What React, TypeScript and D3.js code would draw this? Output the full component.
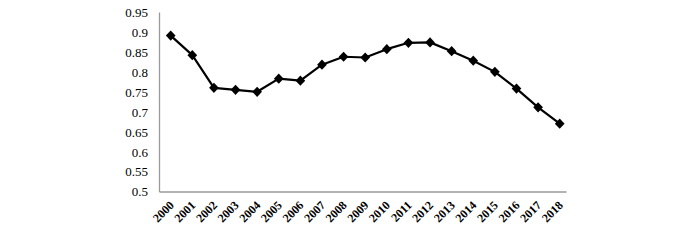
import React from "react";
import * as d3 from "d3";

const years = ["2000","2001","2002","2003","2004","2005","2006","2007","2008","2009","2010","2011","2012","2013","2014","2015","2016","2017","2018"];
const values = [0.892,0.843,0.761,0.756,0.751,0.784,0.779,0.819,0.839,0.837,0.858,0.874,0.875,0.853,0.829,0.801,0.759,0.712,0.671];
const yTicks = [0.5,0.55,0.6,0.65,0.7,0.75,0.8,0.85,0.9,0.95];

export default function App() {
  const W = 700, H = 240;
  const axisLeft = 159.5, axisRight = 566.5, axisBottom = 192;
  const x = d3.scalePoint<string>().domain(years).range([170.7, 559.7]);
  const y = d3.scaleLinear().domain([0.5, 0.95]).range([191.8, 12.5]);
  const line = d3.line<number>().x((_, i) => x(years[i])!).y(d => y(d));
  const diamond = d3.symbol().type(d3.symbolDiamond2 ?? d3.symbolDiamond).size(60)();
  return (
    <svg width={W} height={H} style={{ position: "absolute", left: 0, top: 0, background: "#fff" }}>
      <line x1={axisLeft} x2={axisLeft} y1={y(0.95)} y2={axisBottom} stroke="#9a9a9a" strokeWidth={1.3} />
      <line x1={axisLeft} x2={axisRight} y1={axisBottom} y2={axisBottom} stroke="#9a9a9a" strokeWidth={1.3} />
      {yTicks.map(t => (
        <text key={t} x={148} y={y(t)} dy="0.35em" textAnchor="end" fontFamily="'Liberation Serif', 'Times New Roman', serif" fontSize={13} fill="#000">{String(t)}</text>
      ))}
      {years.map(yr => (
        <text key={yr} transform={`translate(${x(yr)! + 4},${206}) rotate(-45)`} textAnchor="end" fontFamily="'Liberation Serif', 'Times New Roman', serif" fontSize={12} fontWeight="bold" fill="#000">{yr}</text>
      ))}
      <path d={line(values)!} fill="none" stroke="#000" strokeWidth={2.2} strokeLinejoin="round" />
      {values.map((v, i) => (
        <path key={i} d={diamond!} transform={`translate(${x(years[i])},${y(v)}) scale(1,1.05)`} fill="#000" />
      ))}
    </svg>
  );
}
